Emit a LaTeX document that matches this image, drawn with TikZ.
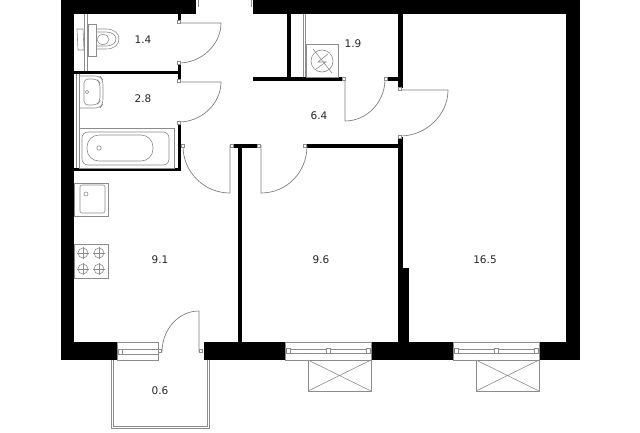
\documentclass[tikz,border=0pt]{standalone}
\usepackage{fontspec}
\setsansfont{DejaVu Sans}
\tikzstyle{wall}=[fill=black,draw=none]
\tikzstyle{fixture}=[draw=black!45,line width=.6pt]
\tikzstyle{door}=[draw=black!50,line width=.7pt]
\tikzstyle{hinge}=[draw=black!45,fill=white,line width=.5pt]
\tikzstyle{area}=[font=\sffamily\fontsize{10.5}{12}\selectfont,text=black!85,inner sep=0pt]
\begin{document}
\begin{tikzpicture}[x=1pt,y=-1pt]
    \useasboundingbox (0,0) rectangle (640,432);
    % outer walls
    \fill[wall] (61,0) rectangle (196,14);
    \fill[wall] (253,0) rectangle (580,14);
    \fill[wall] (61,0) rectangle (74,360);
    \fill[wall] (566,0) rectangle (580,360);
    \fill[wall] (61,342) rectangle (117,360);
    \fill[wall] (204,342) rectangle (285,360);
    \fill[wall] (371,342) rectangle (453,360);
    \fill[wall] (540,342) rectangle (580,360);
    % inner walls
    \fill[wall] (178,14) rectangle (181,21);
    \fill[wall] (178,63) rectangle (181,81);
    \fill[wall] (178,123) rectangle (181,171);
    \fill[wall] (74,71) rectangle (181,74);
    \fill[wall] (74,168) rectangle (181,171);
    \fill[wall] (181,144) rectangle (183,148);
    \fill[wall] (233,144) rectangle (258,148);
    \fill[wall] (238,148) rectangle (242,342);
    \fill[wall] (307,144) rectangle (403,148);
    \fill[wall] (398,14) rectangle (403,88);
    \fill[wall] (398,137) rectangle (403,342);
    \fill[wall] (398,268) rectangle (409,342);
    \fill[wall] (253,77) rectangle (343,81);
    \fill[wall] (387,77) rectangle (403,81);
    \fill[wall] (287,14) rectangle (291,77);
    % doors
    \draw[door] (179,23)--(221,23) .. controls (221,45) and (201,63) .. (179,63);
    \draw[door] (179,82)--(221,82) .. controls (221,104) and (201,122) .. (179,122);
    \draw[door] (230,145)--(230,193) .. controls (204,193) and (183,172) .. (183,146);
    \draw[door] (261,145)--(261,193) .. controls (287,193) and (307,172) .. (307,146);
    \draw[door] (345,79)--(345,121) .. controls (367,121) and (385,102) .. (385,79);
    \draw[door] (400,90)--(448,90) .. controls (448,115) and (426,136) .. (400,136);
    \draw[door] (199,352)--(199,311) .. controls (178,311) and (162,330) .. (162,352);
    \foreach \hx/\hy in {179/22,179/63,179/81,179/123,183/146,232/146,259/146,305/146,344/79,386/79,400/89,400/137,160/351,201/351}
      \draw[hinge] (\hx-1.5,\hy-1.5) rectangle (\hx+1.5,\hy+1.5);
    % entrance
    \draw[fixture] (198,0)--(198,7);
    \draw[fixture] (251,0)--(251,7);
    % toilet
    \draw[fixture] (84,14)--(84,71) (87,14)--(87,71);
    \draw[fixture] (88,24) rectangle (96,56);
    \draw[fixture] (77,29)--(83,29)--(84,50)--(78,50)--cycle;
    \draw[fixture] (96,29)--(106,29) .. controls (114,29) and (119,33) .. (119,39) .. controls (119,45) and (114,49) .. (106,49)--(96,49);
    \draw[fixture] (96,32)--(106,32) .. controls (112,32) and (116,35) .. (116,39) .. controls (116,43) and (112,46) .. (106,46)--(96,46);
    \draw[fixture] (103,39.5) ellipse (6pt and 5pt);
    % basin and bath
    \draw[fixture] (76,74)--(76,168) (79,74)--(79,168);
    \draw[fixture,rounded corners=5pt] (79,76) -- (100,76) -- (103,80) -- (103,104) -- (100,108) -- (79,108);
    \draw[fixture,rounded corners=4pt] (84,79) -- (97,79) -- (100,83) -- (100,101) -- (97,105) -- (84,105) -- cycle;
    \draw[fixture] (87,92) circle (1.8pt);
    \draw[fixture] (79,128) rectangle (174,168);
    \draw[fixture,rounded corners=6pt] (82,132) rectangle (169,165);
    \draw[fixture,rounded corners=12pt] (87,135) rectangle (153,161);
    \draw[fixture] (99,148) circle (2.2pt);
    % closet
    \draw[fixture] (303,14)--(303,77) (305,14)--(305,77);
    \draw[fixture] (306,44) rectangle (338,77);
    \draw[fixture] (322,61) circle (11pt);
    \draw[fixture] (313,49)--(332,73);
    \draw[fixture] (328,54)--(318,62)--(326,62)--(316,69);
    % kitchen
    \draw[fixture] (74,183) rectangle (108,216);
    \draw[fixture,rounded corners=2pt] (80,185) rectangle (105,213);
    \draw[fixture] (86,194) circle (2pt);
    \draw[fixture] (74,244) rectangle (108,278);
    \foreach \bx in {83,99}
      \foreach \by in {253,269} {
        \draw[fixture] (\bx,\by) circle (5pt);
        \draw[fixture] (\bx-6,\by)--(\bx+6,\by) (\bx,\by-6)--(\bx,\by+6);
      }
    % balcony
    \draw[fixture] (111,360)--(111,428)--(209,428)--(209,360);
    \draw[fixture] (113,360)--(113,426)--(207,426)--(207,360);
    \draw[fixture] (117,342) rectangle (158,360);
    \draw[fixture] (122,349) rectangle (158,354);
    \draw[hinge] (118,349) rectangle (122,354);
    % windows
    \foreach \wx in {0,168} {
      \begin{scope}[xshift=\wx pt]
        \draw[fixture] (285,342) rectangle (371,360);
        \draw[fixture] (285,349) rectangle (371,353);
        \foreach \px in {286,326,366}
          \draw[hinge] (\px,348.5) rectangle (\px+4,353.5);
        \draw[fixture] (308,360) rectangle (371,391);
        \draw[fixture] (308,360)--(371,391) (308,391)--(371,360);
      \end{scope}
    }
    % areas
    \node[area] (wc) at (143,40) {1.4};
    \node[area] (bath) at (143,99) {2.8};
    \node[area] (closet) at (353,44) {1.9};
    \node[area] (hall) at (319,116) {6.4};
    \node[area] (kitchen) at (160,260) {9.1};
    \node[area] (bedroom) at (321,260) {9.6};
    \node[area] (living) at (485,260) {16.5};
    \node[area] (balcony) at (160,391) {0.6};
  \end{tikzpicture}
\end{document}
